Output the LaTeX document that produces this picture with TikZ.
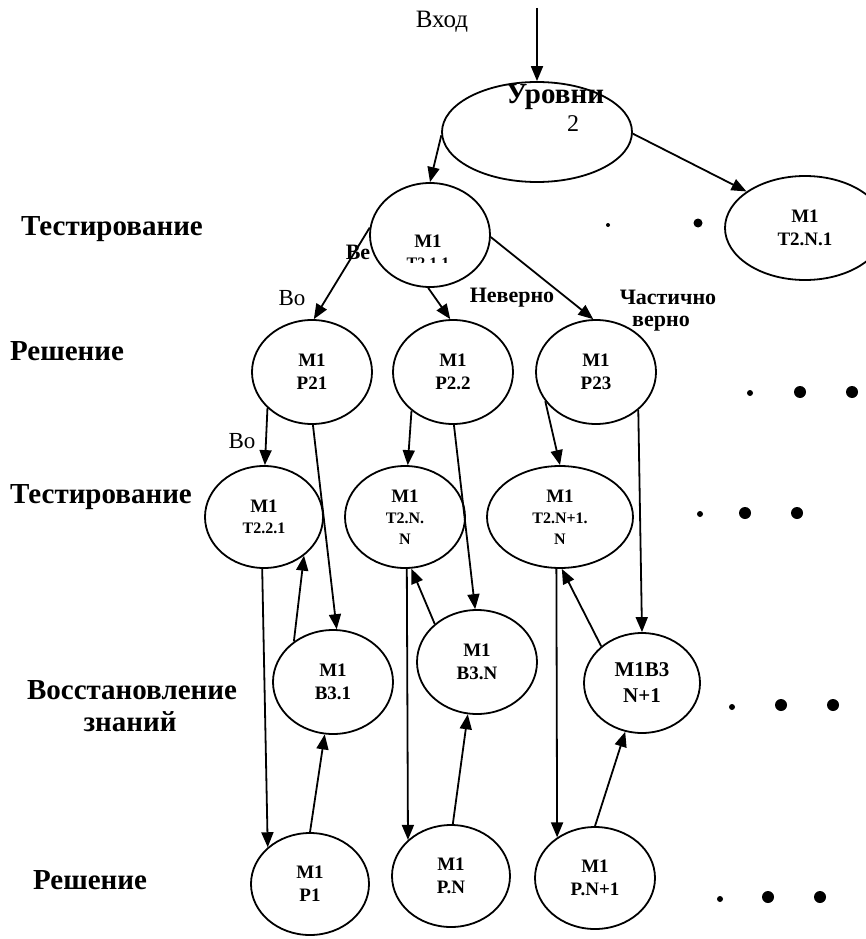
\documentclass[tikz,border=0pt]{standalone}
\usepackage{fontspec}
\setmainfont{Liberation Serif}
\usetikzlibrary{arrows.meta,shapes.geometric}
\tikzset{
  mnode/.style={ellipse, draw, line width=1.8pt, inner sep=0pt, align=center,
    minimum width=120pt, minimum height=104pt,
    font=\bfseries\fontsize{19}{23}\selectfont},
  tnode/.style={mnode, font=\bfseries\fontsize{16}{21}\selectfont},
  arr/.style={-{Triangle[length=15pt,width=12pt]}, line width=1.8pt},
  rowlab/.style={font=\bfseries\fontsize{29}{32}\selectfont, inner sep=0pt, align=center},
  edgelab/.style={font=\bfseries\fontsize{22}{24}\selectfont, inner sep=0pt},
  plainlab/.style={font=\fontsize{23}{26}\selectfont, inner sep=0pt},
  bigdot/.style={fill=black},
}
\begin{document}
\begin{tikzpicture}[x=1pt,y=-1pt]
\useasboundingbox (0,0) rectangle (866,939);
\begin{scope}
\clip (0,0) rectangle (866,939);
% top ellipse
\node[ellipse, draw, line width=1.8pt, minimum width=190pt, minimum height=100pt, inner sep=0pt] (U) at (537,132) {};
\node[font=\bfseries\fontsize{29}{30}\selectfont, inner sep=0pt] (Ut) at (555,97) {Уровни};
\node[font=\fontsize{24}{26}\selectfont, inner sep=0pt] (U2) at (573,124) {2};
\node[font=\fontsize{25}{28}\selectfont, inner sep=0pt] (vhod) at (442,22) {Вход};
\coordinate (in) at (537,8);

% row 1
\node[mnode] (T211) at (430,235) {};
\node[font=\bfseries\fontsize{19}{21}\selectfont, inner sep=0pt] (T211a) at (428,241) {M1};
\begin{scope}
\clip (380,250) rectangle (480,262);
\node[font=\bfseries\fontsize{16}{18}\selectfont, inner sep=0pt] (T211b) at (428,263) {T2.1.1};
\end{scope}
\node[mnode, minimum width=160pt, font=\bfseries\fontsize{19}{23}\selectfont] (TN1) at (805,228) {M1\\T2.N.1};

% row 2
\node[mnode] (P21) at (312,372) {M1\\P21};
\node[mnode] (P22) at (453,372) {M1\\P2.2};
\node[mnode] (P23) at (596,372) {M1\\P23};

% row 3
\node[tnode, minimum width=118pt, minimum height=102pt] (T221) at (264,517) {\fontsize{19}{22}\selectfont M1\\T2.2.1};
\node[tnode, minimum height=102pt] (TNN) at (405,517) {\fontsize{19}{22}\selectfont M1\\T2.N.\\N};
\node[tnode, minimum width=146pt, minimum height=102pt] (TN1N) at (560,517) {\fontsize{19}{22}\selectfont M1\\T2.N+1.\\N};

% row 4
\node[mnode] (B31) at (333,682) {M1\\B3.1};
\node[mnode] (B3N) at (477,662) {M1\\B3.N};
\node[mnode, minimum width=116pt, minimum height=100pt, font=\bfseries\fontsize{21}{26}\selectfont] (B3N1) at (642,683) {M1B3\\N+1};

% row 5
\node[mnode, minimum width=118pt, minimum height=102pt] (P1) at (310,884) {M1\\P1};
\node[mnode, minimum width=118pt, minimum height=102pt] (PN) at (451,876) {M1\\P.N};
\node[mnode, minimum height=102pt] (PN1) at (595,878) {M1\\P.N+1};

% row labels
\node[rowlab] (L1) at (112,229) {Тестирование};
\node[rowlab] (L2) at (67,351) {Решение};
\node[rowlab] (L3) at (101,497) {Тестирование};
\node[rowlab] (L4) at (132,690) {Восстановление};
\node[rowlab] (L4b) at (130,722) {знаний};
\node[rowlab] (L5) at (90,880) {Решение};

% edge labels
\node[plainlab] (vo1) at (292,298) {Во};
\node[plainlab] (vo2) at (242,441) {Во};
\node[edgelab] (ve) at (358,252) {Ве};
\node[edgelab] (nev) at (512,298) {Неверно};
\node[edgelab] (chast) at (668,297) {Частично};
\node[edgelab] (verno) at (661,324) {верно};

% connectors
\draw[arr] (in) -- (U.90);
\draw[arr] (U.182) -- (T211.90);
\draw[arr] (U.359) -- (TN1.148);
\draw[arr] (T211.173) -- (P21.88);
\draw[arr] (T211.268) -- (P22.93);
\draw[arr] (T211.358) -- (P23.93);

\draw[arr] (P21.219) -- (T221.89);
\draw[arr] (P21.271) -- (B31.86);
\draw[arr] (P22.223) -- (TNN.87);
\draw[arr] (P22.271) -- (B3N.92);
\draw[arr] (P23.210) -- (TN1N.90);
\draw[arr] (P23.318) -- (B3N1.90);

\draw[arr] (T221.268) -- (P1.139);
\draw[arr] (P1.90) -- (B31.261);
\draw[arr] (B31.134) -- (T221.316);

\draw[arr] (TNN.272) -- (PN.140);
\draw[arr] (PN.88) -- (B3N.260);
\draw[arr] (B3N.138) -- (TNN.277);

\draw[arr] (TN1N.266) -- (PN1.133);
\draw[arr] (PN1.90) -- (B3N1.251);
\draw[arr] (B3N1.138) -- (TN1N.272);

% ellipsis dots
\fill[bigdot] (608,225) circle (2pt);
\fill[bigdot] (698,223) circle (4.5pt);
\fill[bigdot] (750,393) circle (3pt);
\fill[bigdot] (800,392) circle (6pt);
\fill[bigdot] (852,392) circle (6pt);
\fill[bigdot] (700,514) circle (3pt);
\fill[bigdot] (745,513) circle (6pt);
\fill[bigdot] (797,513) circle (6pt);
\fill[bigdot] (732,707) circle (3pt);
\fill[bigdot] (781,705) circle (6pt);
\fill[bigdot] (833,705) circle (6pt);
\fill[bigdot] (720,899) circle (3pt);
\fill[bigdot] (768,897) circle (6pt);
\fill[bigdot] (820,897) circle (6pt);
\end{scope}
\end{tikzpicture}
\end{document}
